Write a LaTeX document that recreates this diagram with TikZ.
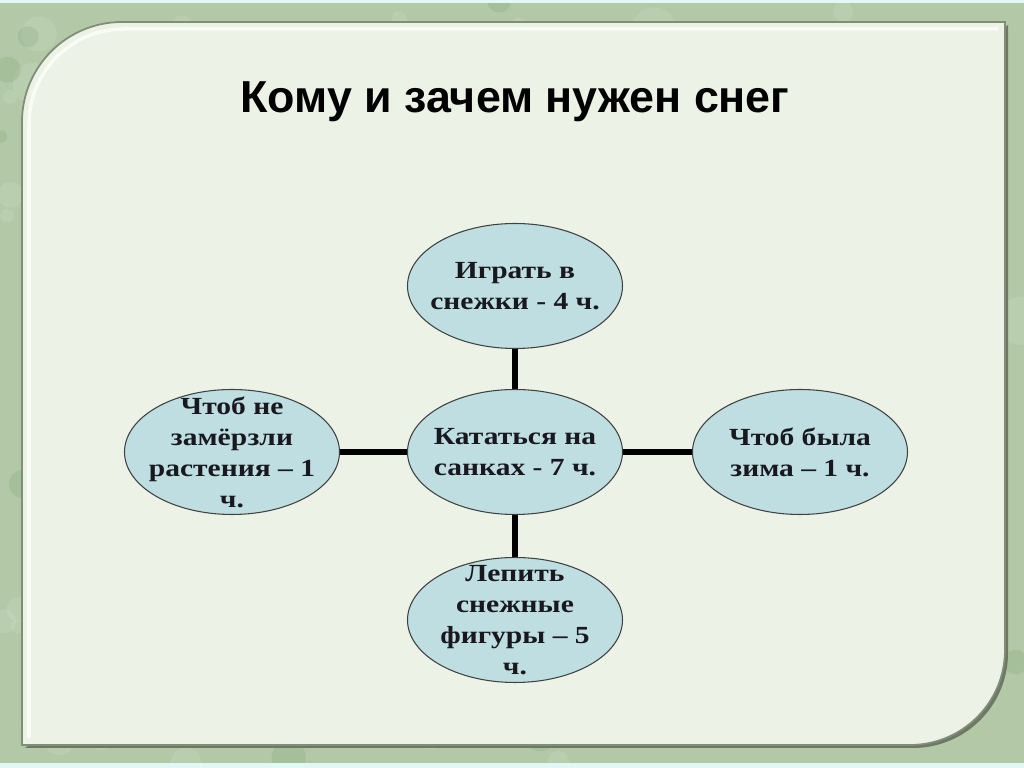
\documentclass[tikz,border=0pt]{standalone}
\usepackage{fontspec}
\setmainfont{Liberation Serif}
\newfontfamily\titlefont{Liberation Sans}
\newfontfamily\ideafont{Liberation Serif}[FakeStretch=1.2]
\usetikzlibrary{shapes.geometric}
\definecolor{fondo}{RGB}{178,200,166}
\definecolor{panel}{RGB}{236,242,229}
\definecolor{borde}{RGB}{128,142,118}
\definecolor{globo}{RGB}{190,222,226}
\definecolor{tinta}{RGB}{24,24,30}
\begin{document}
\begin{tikzpicture}[
    idea/.style={ellipse, draw=black!75, line width=0.6pt, fill=globo,
      minimum width=4.3cm, minimum height=2.5cm, inner sep=-0.3cm,
      align=center, text=tinta, font=\ideafont\bfseries\fontsize{14}{17.6}\selectfont},
    enlace/.style={line width=3.2pt, black}]
\useasboundingbox (0,0) rectangle (20.48,15.36);

% Fondo
\begin{scope}
\clip (0,0) rectangle (20.48,15.36);
\fill[fondo] (0,0) rectangle (20.48,15.36);
\pgfmathsetseed{7}
\foreach \i in {1,...,120}
  \fill[white, opacity=0.10] ({rnd*20.48},{rnd*15.36}) circle ({0.1+rnd*0.4});
\foreach \i in {1,...,80}
  \fill[green!30!black, opacity=0.07] ({rnd*20.48},{rnd*15.36}) circle ({0.05+rnd*0.3});
\fill[fondo!60!cyan!20!white] (0,15.30) rectangle (20.48,15.36);
\fill[fondo!60!cyan!20!white] (0,0) rectangle (20.48,0.10);
\end{scope}

% Panel
\fill[borde!85!black]
  (0.50,0.40) -- (18.26,0.40) [rounded corners=1.9cm] -- (20.16,0.40)
  [rounded corners=0pt] -- (20.16,14.86) -- cycle;
\draw[borde, line width=1pt, fill=panel]
  (0.44,0.46) -- (18.20,0.46) [rounded corners=1.9cm] -- (20.10,0.46)
  [rounded corners=0pt] -- (20.10,14.92) -- (2.44,14.92) [rounded corners=2cm]
  -- (0.44,14.92) [rounded corners=0pt] -- cycle;
\draw[white, line width=2pt, opacity=0.7]
  (0.58,0.60) -- (0.58,12.9) [rounded corners=1.9cm] -- (0.58,14.78) -- (19.96,14.78);

% Titulo
\node[anchor=base, font=\titlefont\bfseries\fontsize{25.5}{28}\selectfont] (titulo)
  at (10.30,13.10) {Кому и зачем нужен снег};

% Ideas
\node[idea] (centro) at (10.30,6.32) {Кататься на\\санках - 7 ч.};
\node[idea] (arriba) at (10.30,9.64) {Играть в\\снежки - 4 ч.};
\node[idea] (abajo) at (10.30,2.96) {Лепить\\снежные\\фигуры – 5\\ч.};
\node[idea] (izq) at (4.64,6.32) {Чтоб не\\замёрзли\\растения – 1\\ч.};
\node[idea] (der) at (16.00,6.32) {Чтоб была\\зима – 1 ч.};

\foreach \n in {arriba, abajo, izq, der}
  \draw[enlace] (centro) -- (\n);

\end{tikzpicture}
\end{document}
